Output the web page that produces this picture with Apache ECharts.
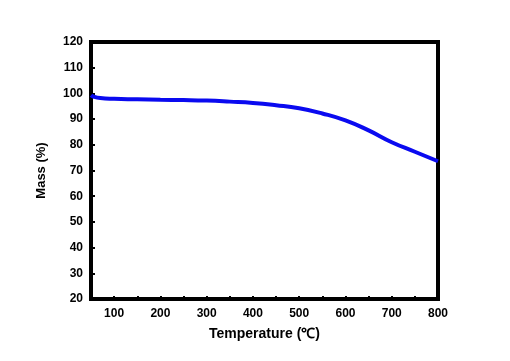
<!DOCTYPE html>
<html><head><meta charset="utf-8">
<script src="https://cdn.jsdelivr.net/npm/echarts@6/dist/echarts.min.js"></script>
<style>html,body{margin:0;padding:0;background:#fff}#c{width:510px;height:361px}</style>
</head><body><div id="c"></div>
<script>
var temperature = [50, 55, 70, 100, 150, 200, 250, 300, 350, 400, 450, 500, 550, 600, 650, 700, 750, 800];
var mass = [99.3, 98.8, 98.2, 97.9, 97.7, 97.5, 97.4, 97.2, 96.8, 96.3, 95.4, 94.2, 92.2, 89.5, 85.6, 81.0, 77.3, 73.6];
var xLabels = [100, 200, 300, 400, 500, 600, 700, 800];
var yLabels = [20, 30, 40, 50, 60, 70, 80, 90, 100, 110, 120];

var chart = echarts.init(document.getElementById('c'));
var font = 'Liberation Sans, Arial, sans-serif';
chart.setOption({
  animation: false,
  grid: {left: 91, right: 72, top: 42, bottom: 62, show: true, borderColor: '#000', borderWidth: 4, backgroundColor: 'transparent'},
  xAxis: {
    type: 'value', min: 50, max: 800, interval: 50,
    name: 'Temperature (℃)', nameLocation: 'middle', nameGap: 28,
    nameTextStyle: {fontFamily: font, fontWeight: 'bold', fontSize: 14, color: '#000'},
    axisLine: {show: false},
    axisTick: {show: true, inside: true, length: 3, lineStyle: {color: '#000', width: 2}},
    splitLine: {show: false},
    axisLabel: {fontFamily: font, fontWeight: 'bold', fontSize: 12, color: '#000', margin: 9,
      formatter: function (v) { return xLabels.indexOf(v) >= 0 ? String(v) : ''; }}
  },
  yAxis: {
    type: 'value', min: 20, max: 120, interval: 10,
    name: 'Mass (%)', nameLocation: 'middle', nameGap: 43, nameRotate: 90,
    nameTextStyle: {fontFamily: font, fontWeight: 'bold', fontSize: 13, color: '#000'},
    axisLine: {show: false},
    axisTick: {show: true, inside: true, length: 4, lineStyle: {color: '#000', width: 2}},
    splitLine: {show: false},
    axisLabel: {fontFamily: font, fontWeight: 'bold', fontSize: 12, color: '#000', margin: 8,
      formatter: function (v) { return yLabels.indexOf(v) >= 0 ? String(v) : ''; }}
  },
  series: [{
    type: 'line', smooth: true, showSymbol: false,
    data: temperature.map(function (t, i) { return [t, mass[i]]; }),
    lineStyle: {color: '#0a0af0', width: 4}
  }]
});
</script></body></html>
